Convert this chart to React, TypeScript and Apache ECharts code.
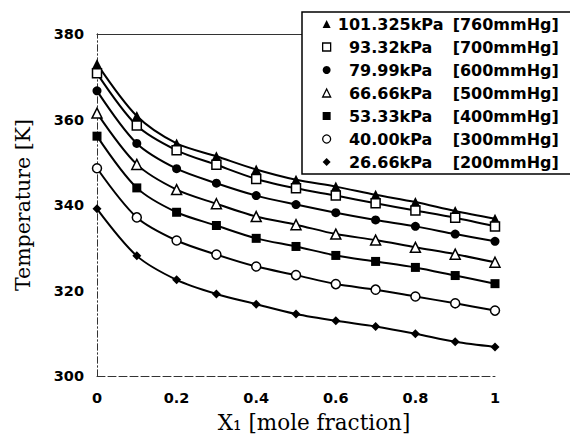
import React, { useEffect, useRef } from "react";
import * as echarts from "echarts";

const xValues = [0, 0.1, 0.2, 0.3, 0.4, 0.5, 0.6, 0.7, 0.8, 0.9, 1];
const seriesNames = [
  "101.325kPa [760mmHg]",
  "93.32kPa [700mmHg]",
  "79.99kPa [600mmHg]",
  "66.66kPa [500mmHg]",
  "53.33kPa [400mmHg]",
  "40.00kPa [300mmHg]",
  "26.66kPa [200mmHg]",
];
const t760 = [373.0, 360.8, 354.4, 351.4, 348.3, 345.9, 344.3, 342.4, 340.7, 338.6, 336.8];
const t700 = [370.8, 358.6, 352.8, 349.4, 346.1, 343.9, 342.2, 340.4, 338.7, 337.0, 335.0];
const t600 = [366.7, 354.4, 348.5, 345.1, 342.2, 340.1, 338.2, 336.5, 335.0, 333.2, 331.5];
const t500 = [361.5, 349.5, 343.6, 340.3, 337.3, 335.4, 333.2, 331.8, 330.1, 328.5, 326.6];
const t400 = [356.1, 344.0, 338.3, 335.2, 332.2, 330.3, 328.2, 326.8, 325.4, 323.5, 321.6];
const t300 = [348.6, 337.1, 331.7, 328.4, 325.6, 323.6, 321.5, 320.2, 318.6, 317.0, 315.3];
const t200 = [339.1, 328.1, 322.5, 319.2, 316.8, 314.5, 312.9, 311.6, 309.9, 308.0, 306.8];
const seriesValues = [t760, t700, t600, t500, t400, t300, t200];
const symbols = ["triangle", "rect", "circle", "triangle", "rect", "circle", "diamond"];
const filled = [true, false, true, false, true, false, true];

export default function App() {
  const ref = useRef<HTMLDivElement>(null);
  useEffect(() => {
    if (!ref.current) return;
    const chart = echarts.init(ref.current, null, { renderer: "svg" });
    const tickFont = { fontFamily: "DejaVu Sans", fontWeight: "bold" as const, fontSize: 14.5, color: "#000" };
    const series = seriesNames.map((name, i) => ({
      name,
      type: "line",
      data: xValues.map((x, j) => [x, seriesValues[i][j]]),
      smooth: 0.3,
      symbol: symbols[i],
      symbolSize: symbols[i] === "diamond" ? 9 : symbols[i] === "triangle" ? 10 : 9,
      showSymbol: true,
      lineStyle: { color: "#000", width: 2 },
      itemStyle: filled[i]
        ? { color: "#000", borderColor: "#000", borderWidth: 0 }
        : { color: "#fff", borderColor: "#000", borderWidth: 1.5 },
      z: 3,
    }));
    chart.setOption({
      animation: false,
      backgroundColor: "#fff",
      grid: { left: 97, right: 75, top: 34, bottom: 63, containLabel: false },
      legend: {
        orient: "vertical",
        left: 302,
        top: 12,
        padding: [4, 12, 4, 20],
        itemWidth: 8,
        itemHeight: 8,
        itemGap: 7,
        backgroundColor: "#fff",
        borderColor: "#000",
        borderWidth: 1.5,
        borderRadius: 0,
        selectedMode: false,
        data: seriesNames.map((n, i) => ({
          name: n,
          icon: symbols[i],
          itemStyle: filled[i]
            ? { color: "#000", borderWidth: 0 }
            : { color: "#fff", borderColor: "#000", borderWidth: 1.3 },
        })),
        formatter: (name: string) => {
          const parts = name.split(" ");
          return `{a|${parts[0]}}{b|${parts[1]}}`;
        },
        textStyle: {
          fontFamily: "DejaVu Sans",
          fontWeight: "bold",
          fontSize: 16,
          color: "#000",
          lineHeight: 16,
          rich: {
            a: { fontFamily: "DejaVu Sans", fontWeight: "bold", fontSize: 16, width: 110, align: "right", lineHeight: 16 },
            b: { fontFamily: "DejaVu Sans", fontWeight: "bold", fontSize: 16, lineHeight: 16, padding: [0, 0, 0, 7] },
          },
        },
      },
      xAxis: [
        {
          type: "value",
          min: 0,
          max: 1,
          interval: 0.2,
          position: "bottom",
          name: "X\u2081 [mole fraction]",
          nameLocation: "middle",
          nameGap: 35,
          nameTextStyle: { fontFamily: "DejaVu Serif", fontSize: 21.5, color: "#000", padding: [0, 0, 0, 36] },
          axisLine: { show: true, lineStyle: { color: "#333", width: 1, type: [8, 3] } },
          axisTick: { show: false },
          axisLabel: { ...tickFont, margin: 14 },
          splitLine: { show: false },
        },
        {
          type: "value",
          min: 0,
          max: 1,
          position: "top",
          axisLine: { show: true, lineStyle: { color: "#333", width: 1.2 } },
          axisTick: { show: false },
          axisLabel: { show: false },
          splitLine: { show: false },
        },
      ],
      yAxis: [
        {
          type: "value",
          min: 300,
          max: 380,
          interval: 20,
          position: "left",
          name: "Temperature [K]",
          nameLocation: "middle",
          nameGap: 64,
          nameTextStyle: { fontFamily: "DejaVu Serif", fontSize: 20.5, color: "#000" },
          axisLine: { show: true, lineStyle: { color: "#333", width: 1, type: [6, 3, 1, 3] } },
          axisTick: { show: false },
          axisLabel: { ...tickFont, margin: 13 },
          splitLine: { show: false },
        },
        {
          type: "value",
          min: 300,
          max: 380,
          position: "right",
          axisLine: { show: true, lineStyle: { color: "#333", width: 1, type: [6, 3, 1, 3] } },
          axisTick: { show: false },
          axisLabel: { show: false },
          splitLine: { show: false },
        },
      ],
      series,
    });
    return () => chart.dispose();
  }, []);
  return <div ref={ref} style={{ width: 570, height: 439, position: "absolute", left: 0, top: 0 }} />;
}
